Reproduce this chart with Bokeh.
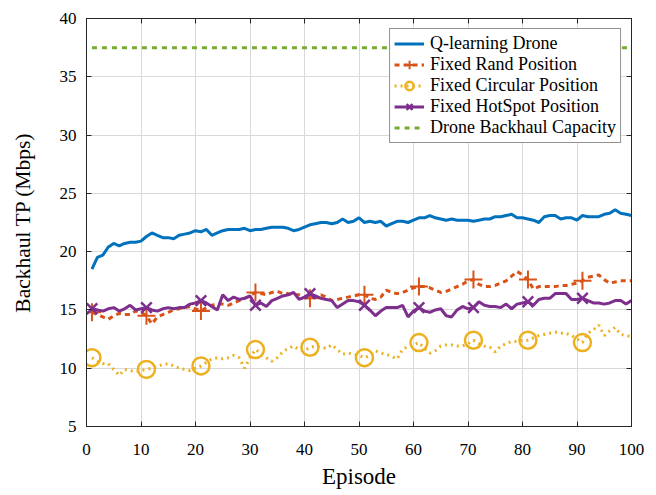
from bokeh.plotting import figure
from bokeh.models import Legend, LegendItem, LinearAxis, FixedTicker, Range1d, CustomLabelingPolicy
from bokeh.embed import file_html
from bokeh.resources import INLINE

episodes = list(range(1, 101))

q_learning = [
    18.5, 19.5, 19.7, 20.4, 20.7, 20.5, 20.7, 20.8, 20.8, 20.9,
    21.3, 21.6, 21.4, 21.2, 21.2, 21.1, 21.4, 21.5, 21.6, 21.8,
    21.7, 21.9, 21.4, 21.6, 21.8, 21.9, 21.9, 21.9, 22.0, 21.8,
    21.9, 21.9, 22.0, 22.1, 22.1, 22.1, 22.0, 21.8, 21.9, 22.1,
    22.3, 22.4, 22.5, 22.5, 22.4, 22.5, 22.8, 22.5, 22.6, 22.9,
    22.5, 22.6, 22.5, 22.6, 22.2, 22.4, 22.6, 22.6, 22.5, 22.7,
    22.9, 22.9, 23.1, 22.9, 22.8, 22.7, 22.8, 22.7, 22.7, 22.7,
    22.6, 22.7, 22.8, 22.8, 23.0, 23.0, 23.1, 23.2, 22.9, 22.9,
    22.8, 22.7, 22.5, 23.0, 23.1, 23.1, 22.8, 22.9, 22.9, 22.7,
    23.1, 23.0, 23.0, 23.0, 23.2, 23.3, 23.6, 23.3, 23.2, 23.1,
]

fixed_rand = [
    14.8, 14.6, 14.4, 14.2, 14.5, 14.7, 14.6, 14.6, 14.9, 14.8,
    14.5, 13.8, 14.4, 14.6, 14.8, 15.0, 15.1, 15.2, 15.3, 15.1,
    14.9, 15.2, 15.4, 15.5, 15.5, 15.4, 15.6, 15.8, 16.0, 16.2,
    16.5, 16.4, 16.3, 16.5, 16.6, 16.4, 16.4, 16.3, 16.3, 16.1,
    16.0, 16.1, 16.3, 16.1, 15.8, 15.9, 16.0, 16.1, 16.2, 16.3,
    16.3, 16.0, 15.9, 16.1, 16.7, 16.5, 16.4, 16.5, 16.7, 16.9,
    17.0, 17.0, 16.9, 16.7, 16.5, 16.6, 16.8, 17.0, 17.2, 17.5,
    17.6, 17.2, 17.0, 17.0, 17.1, 17.3, 17.5, 17.9, 18.3, 18.0,
    17.6, 16.8, 17.0, 17.0, 17.0, 17.0, 17.1, 17.1, 17.2, 17.3,
    17.5, 17.8, 17.9, 18.0, 17.6, 17.3, 17.4, 17.5, 17.5, 17.5,
]

fixed_circular = [
    10.9, 10.6, 10.4, 10.4, 9.9, 9.4, 9.9, 9.8, 9.7, 9.8,
    9.9, 10.0, 10.2, 10.3, 10.4, 10.2, 10.0, 9.9, 9.8, 10.0,
    10.2, 10.5, 10.8, 10.9, 10.8, 10.9, 11.1, 10.9, 10.0, 10.9,
    11.6, 11.3, 10.9, 10.6, 10.9, 11.4, 11.7, 11.9, 11.6, 11.5,
    11.8, 11.9, 11.8, 11.7, 12.0, 11.6, 11.2, 11.3, 11.2, 11.1,
    10.9, 11.1, 11.5, 11.3, 11.2, 11.0, 10.8, 11.6, 11.9, 12.0,
    12.2, 11.7, 11.3, 11.5, 11.9, 12.0, 12.0, 11.9, 11.9, 12.1,
    12.4, 12.1, 11.9, 11.8, 11.4, 11.9, 12.1, 12.3, 12.3, 12.4,
    12.4, 12.6, 12.8, 12.9, 13.0, 13.1, 13.0, 13.0, 12.8, 12.5,
    12.2, 13.0, 13.3, 13.7, 12.8, 13.2, 13.5, 12.9, 12.8, 12.7,
]

fixed_hotspot = [
    15.1, 15.0, 14.9, 15.1, 15.2, 14.9, 15.1, 15.4, 15.0, 15.1,
    15.2, 15.0, 14.9, 15.1, 15.2, 15.1, 15.2, 15.2, 15.5, 15.6,
    15.8, 15.6, 15.3, 15.0, 16.3, 15.8, 16.1, 15.9, 16.0, 16.2,
    15.4, 15.6, 15.3, 15.8, 16.0, 16.2, 16.3, 16.5, 15.9, 16.1,
    16.4, 16.2, 16.0, 15.9, 15.8, 15.2, 15.5, 15.8, 15.8, 15.7,
    15.4, 15.0, 14.5, 14.9, 15.2, 15.2, 15.2, 15.4, 14.4, 14.9,
    15.2, 14.9, 14.8, 15.0, 15.1, 14.5, 14.4, 15.0, 15.3, 15.1,
    15.2, 15.7, 15.4, 15.3, 15.3, 15.2, 15.5, 15.1, 15.5, 15.6,
    15.7, 15.4, 15.9, 16.0, 16.0, 16.4, 16.4, 16.4, 15.9, 15.9,
    16.0, 15.8, 15.6, 15.6, 15.5, 15.6, 15.8, 15.8, 15.5, 15.8,
]

backhaul_capacity = [37.5] * len(episodes)

series_labels = [
    "Q-learning Drone",
    "Fixed Rand Position",
    "Fixed Circular Position",
    "Fixed HotSpot Position",
    "Drone Backhaul Capacity",
]

x_ticks = [0, 10, 20, 30, 40, 50, 60, 70, 80, 90, 100]
y_ticks = [5, 10, 15, 20, 25, 30, 35, 40]

marker_idx = list(range(0, 100, 10))
mk_x = [episodes[i] for i in marker_idx]

FONT = "Liberation Serif"
BLUE = "#0072BD"
ORANGE = "#D95319"
YELLOW = "#EDB120"
PURPLE = "#7E2F8E"
GREEN = "#77AC30"

p = figure(width=646, height=491, output_backend="svg", toolbar_location=None,
           x_range=Range1d(0, 100), y_range=Range1d(5, 40),
           min_border_left=86, min_border_right=0, min_border_top=18, min_border_bottom=64)
p.background_fill_color = "white"
p.outline_line_color = "#262626"
p.outline_line_width = 1

r_blue = p.line(episodes, q_learning, line_color=BLUE, line_width=3)
r_red = p.line(episodes, fixed_rand, line_color=ORANGE, line_width=3, line_dash="5 4")
r_red_m = p.scatter(mk_x, [fixed_rand[i] for i in marker_idx], marker="cross", size=18,
                    line_color=ORANGE, line_width=2, fill_alpha=0)
r_yel = p.line(episodes, fixed_circular, line_color=YELLOW, line_width=3, line_dash="2 4")
r_yel_m = p.scatter(mk_x, [fixed_circular[i] for i in marker_idx], marker="circle", size=17,
                    line_color=YELLOW, line_width=2.5, fill_color="white", fill_alpha=0)
r_pur = p.line(episodes, fixed_hotspot, line_color=PURPLE, line_width=3)
r_pur_m = p.scatter(mk_x, [fixed_hotspot[i] for i in marker_idx], marker="x", size=15,
                    line_color=PURPLE, line_width=2.5)
r_grn = p.line(episodes, backhaul_capacity, line_color=GREEN, line_width=3, line_dash="5 5")

for ax in (p.xaxis[0], p.yaxis[0]):
    ax.major_label_text_font = FONT
    ax.major_label_text_font_size = "17px"
    ax.major_label_text_color = "black"
    ax.axis_label_text_font = FONT
    ax.axis_label_text_font_style = "normal"
    ax.axis_label_text_color = "black"
    ax.major_tick_in = 5
    ax.major_tick_out = 0
    ax.minor_tick_in = 0
    ax.minor_tick_out = 0
    ax.axis_line_color = "#262626"
    ax.major_tick_line_color = "#262626"

p.xaxis[0].ticker = FixedTicker(ticks=x_ticks)
p.yaxis[0].ticker = FixedTicker(ticks=y_ticks)
p.xaxis[0].axis_label = "Episode"
p.yaxis[0].axis_label = "Backhaul TP (Mbps)"
p.xaxis[0].axis_label_text_font_size = "23px"
p.yaxis[0].axis_label_text_font_size = "21.5px"
p.xaxis[0].major_label_standoff = 17
p.xaxis[0].axis_label_standoff = 6
p.yaxis[0].major_label_standoff = 10
p.yaxis[0].axis_label_standoff = 22

no_labels = CustomLabelingPolicy(code="""
for (const i of indices) indices.unset(i)
return indices
""")
top = LinearAxis(ticker=FixedTicker(ticks=x_ticks), major_label_policy=no_labels,
                 major_tick_in=5, major_tick_out=0, minor_tick_in=0, minor_tick_out=0,
                 major_label_standoff=0, axis_line_color="#262626", major_tick_line_color="#262626")
right = LinearAxis(ticker=FixedTicker(ticks=y_ticks), major_label_policy=no_labels,
                   major_tick_in=5, major_tick_out=0, minor_tick_in=0, minor_tick_out=0,
                   major_label_standoff=0, axis_line_color="#262626", major_tick_line_color="#262626")
p.add_layout(top, "above")
p.add_layout(right, "right")

p.xgrid.grid_line_color = "#d9d9d9"
p.ygrid.grid_line_color = "#d9d9d9"
p.xgrid.ticker = FixedTicker(ticks=x_ticks)
p.ygrid.ticker = FixedTicker(ticks=y_ticks)

legend = Legend(items=[
    LegendItem(label=series_labels[0], renderers=[r_blue]),
    LegendItem(label=series_labels[1], renderers=[r_red, r_red_m]),
    LegendItem(label=series_labels[2], renderers=[r_yel, r_yel_m]),
    LegendItem(label=series_labels[3], renderers=[r_pur, r_pur_m]),
    LegendItem(label=series_labels[4], renderers=[r_grn]),
], location="top_right")
legend.label_text_font = FONT
legend.label_text_font_size = "18px"
legend.label_text_color = "black"
legend.label_height = 21
legend.glyph_height = 21
legend.glyph_width = 30
legend.label_standoff = 6
legend.spacing = 0
legend.padding = 4
legend.margin = 10
legend.border_line_color = "#262626"
legend.border_line_width = 1
legend.background_fill_alpha = 1
p.add_layout(legend, "center")

open("out.html", "w").write(file_html(p, INLINE))
